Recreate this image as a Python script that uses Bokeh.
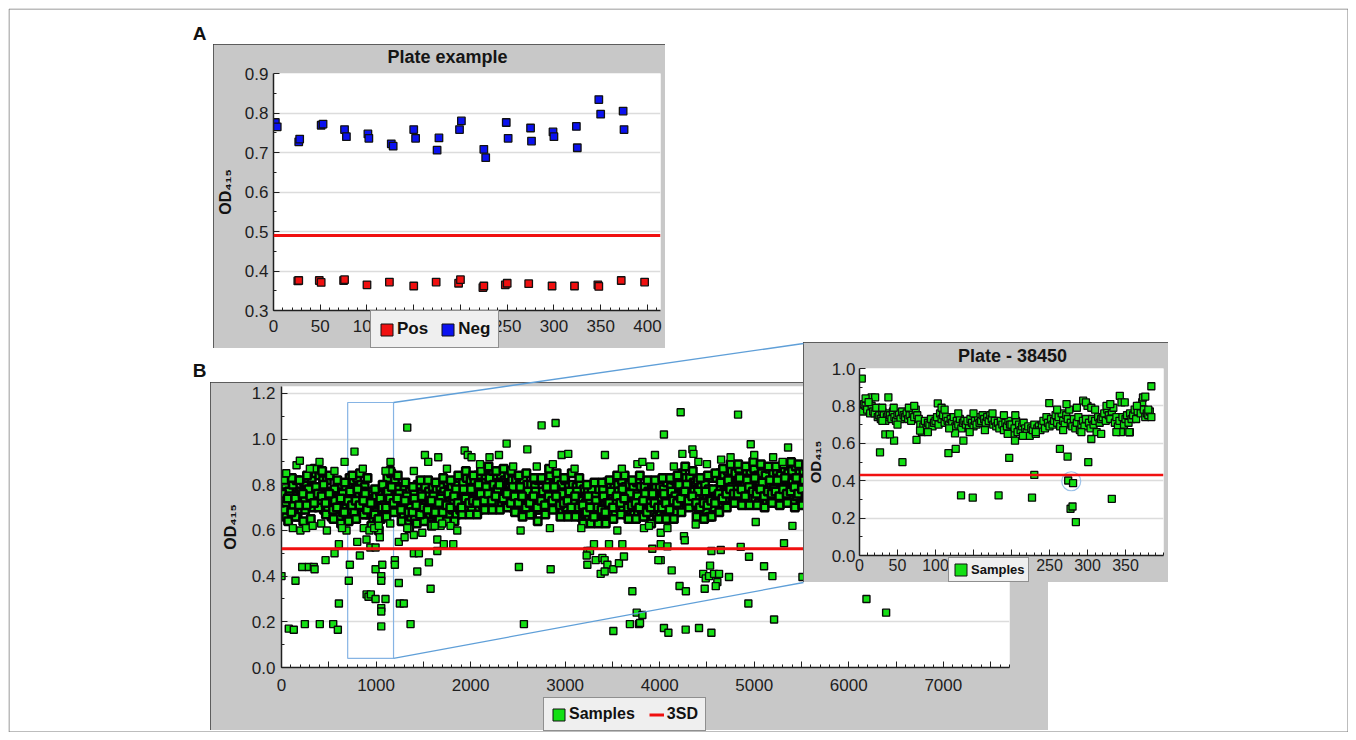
from bokeh.plotting import figure
from bokeh.models import (Range1d, FixedTicker, Span, Legend, LegendItem,
                          PrintfTickFormatter)
from bokeh.layouts import column
from bokeh.embed import file_html
from bokeh.resources import INLINE
from bokeh.core.properties import value

FONT = "Liberation Sans"
NAN = float("nan")

# ---------------- Panel A : plate example (controls) ----------------
a_title = "Plate example"
a_neg_x = [2, 4, 27, 28, 51, 53, 76, 78, 101, 102, 126, 128, 150, 152, 175, 177,
           199, 201, 225, 227, 249, 251, 275, 276, 299, 300, 324, 325, 348, 350, 374, 375]
a_neg_y = [.776, .765, .727, .734, .769, .772, .758, .740, .747, .736, .722, .716, .758, .736,
           .706, .737, .758, .780, .708, .687, .776, .736, .762, .729, .752, .740, .766, .712,
           .834, .797, .805, .758]
a_pos_x = [26, 27, 49, 51, 75, 76, 100, 124, 150, 174, 198, 200, 224, 225, 248, 250,
           273, 298, 322, 347, 348, 372, 397]
a_pos_y = [.375, .376, .376, .371, .376, .378, .365, .372, .362, .372, .369, .378, .358, .362,
           .365, .369, .368, .362, .362, .365, .361, .376, .372]
a_cutoff = 0.49
a_xticks = [0, 50, 100, 150, 200, 250, 300, 350, 400]
a_yticks = [0.3, 0.4, 0.5, 0.6, 0.7, 0.8, 0.9]

# ---------------- Panel B : all samples ----------------
b_step = 40  # sample-index spacing of the dense band rows
b_band_u = [.78, .80, .77, .80, .82, .77, .81, .83, .83, .85,
            .84, .82, .82, .77, .78, .75, .80, .79, .83, .82,
            .83, .80, .79, .75, .77, .75, .77, .79, .83, .85,
            .82, .79, .79, .76, .77, .77, .80, .76, .79, .77,
            .79, .78, .79, .77, .81, .79, .81, .83, .81, .83,
            .82, .82, .84, .81, .84, .83, .86, .84, .84, .82,
            .84, .82, .82, .80, .82, .80, .80, .79, .82, .82,
            .82, .84, .80, .82, .80, .82, .79, .80, .79, .80,
            .78, .77, .78, .75, .78, .78, .81, .79, .80, .80,
            .82, .79, .80, .79, .81, .79, .79, .77, .81, .79,
            .79, .78, .81, .79, .82, .82, .85, .83, .83, .81,
            .82, .79, .80, .78, .83, .83, .85, .84, .86, .86,
            .85, .87, .83, .86, .86, .87, .84, .85, .84, .87,
            .85, .86, .84, .87, .85, .86, .88, .85, .86, .84,
            .86, .84, .87, .85, .86, .84, .87, .85, .86, .88,
            .85, .84, .86, .87, .85, .86, .84, .87, .85, .86, .85]
b_band_m = [.73, .72, .74, .72, .76, .74, .76, .75, .79, .77,
            .79, .76, .75, .75, .71, .73, .71, .75, .75, .78,
            .75, .77, .73, .69, .71, .70, .70, .76, .76, .76,
            .78, .73, .72, .73, .69, .73, .72, .71, .75, .72,
            .71, .74, .75, .71, .74, .75, .74, .77, .76, .75,
            .77, .77, .75, .79, .78, .77, .79, .79, .80, .77,
            .77, .79, .75, .76, .76, .73, .74, .76, .74, .77,
            .78, .76, .78, .76, .73, .76, .75, .73, .75, .73,
            .72, .73, .70, .73, .72, .71, .75, .74, .73, .77,
            .74, .76, .74, .76, .72, .74, .74, .72, .76, .74,
            .74, .73, .72, .76, .78, .76, .78, .80, .76, .76,
            .74, .76, .74, .72, .77, .78, .81, .78, .79, .81,
            .80, .79, .81, .80, .79, .81, .80, .81, .78, .80,
            .81, .79, .80, .82, .79, .80, .82, .80, .81, .79,
            .80, .82, .79, .81, .80, .78, .81, .80, .82, .79,
            .81, .80, .79, .82, .80, .81, .79, .80, .81, .80, .80]
b_band_l = [.68, .66, .69, .68, .66, .69, .69, .72, .70, .73,
            .72, .69, .70, .66, .68, .66, .68, .67, .69, .68,
            .71, .68, .67, .67, .65, .63, .65, .69, .69, .71,
            .69, .69, .66, .64, .66, .66, .68, .65, .68, .66,
            .67, .66, .67, .69, .67, .69, .67, .69, .71, .69,
            .70, .72, .69, .71, .71, .73, .72, .75, .71, .72,
            .72, .70, .70, .68, .70, .69, .67, .69, .69, .72,
            .70, .72, .70, .72, .68, .70, .67, .68, .69, .66,
            .67, .66, .64, .66, .68, .67, .69, .67, .68, .70,
            .69, .67, .69, .67, .68, .69, .66, .69, .68, .66,
            .68, .66, .68, .70, .68, .71, .73, .71, .71, .71,
            .69, .67, .69, .66, .70, .73, .72, .73, .74, .73,
            .75, .73, .73, .75, .74, .74, .72, .74, .73, .73,
            .74, .76, .73, .75, .74, .72, .75, .76, .73, .74,
            .75, .73, .74, .76, .72, .74, .75, .73, .74, .76,
            .74, .75, .73, .74, .76, .73, .74, .75, .72, .74, .74]
b_band_w = [.82, .64, .83, .66, .82, .64, .84, .65, .87, .70,
            .86, .67, .84, .65, .82, .63, .81, .64, .84, .65,
            .85, .67, .83, .62, .78, .60, .80, .66, .86, .68,
            .84, .64, .81, .61, .79, .63, .82, .64, .82, .62,
            .81, .65, .83, .64, .82, .64, .84, .67, .86, .67,
            .84, .67, .86, .69, .88, .69, .86, .69, .87, .70,
            .86, .68, .84, .66, .85, .67, .83, .64, .83, .67,
            .87, .69, .85, .66, .83, .66, .85, .66, .83, .63,
            .80, .63, .81, .63, .81, .63, .82, .65, .84, .67,
            .84, .65, .82, .65, .84, .66, .82, .63, .82, .65,
            .83, .65, .83, .65, .84, .68, .88, .70, .86, .66,
            .83, .65, .84, .66, .85, .68, .87, .70, .89, .72,
            .89, .71, .88, .71, .90, .71, .89, .70, .88, .72,
            .88, .71, .89, .72, .90, .70, .89, .71, .88, .72,
            .89, .71, .88, .70, .89, .72, .90, .71, .88, .70,
            .89, .72, .88, .71, .89, .70, .88, .72, .89, .71, .88]
b_band_m2 = [.76, .71, .75, .71, .75, .77, .73, .78, .74, .79,
             .76, .80, .72, .75, .73, .70, .76, .73, .77, .73,
             .78, .72, .76, .70, .72, .68, .74, .71, .77, .79,
             .73, .76, .70, .75, .70, .74, .69, .75, .71, .73,
             .75, .71, .74, .70, .76, .73, .78, .73, .78, .73,
             .78, .74, .80, .75, .79, .75, .80, .78, .81, .76,
             .74, .79, .74, .79, .74, .77, .71, .77, .73, .77,
             .79, .74, .79, .74, .76, .72, .77, .73, .77, .71,
             .70, .75, .70, .73, .69, .75, .72, .77, .73, .77,
             .78, .73, .76, .71, .75, .72, .76, .72, .76, .71,
             .71, .76, .71, .77, .75, .80, .76, .80, .74, .77,
             .77, .71, .77, .73, .78, .75, .81, .77, .82, .79,
             .78, .83, .77, .82, .79, .83, .78, .81, .77, .82,
             .78, .82, .77, .83, .78, .81, .83, .79, .82, .77,
             .82, .78, .83, .77, .81, .79, .83, .78, .82, .77,
             .81, .78, .83, .79, .82, .77, .81, .83, .78, .82, .80]
b_band_l2 = [.69, .74, .68, .74, .71, .76, .71, .75, .72, .76,
             .75, .72, .76, .69, .70, .74, .68, .73, .71, .73,
             .71, .73, .69, .72, .67, .65, .70, .70, .74, .72,
             .74, .69, .73, .68, .68, .71, .67, .70, .69, .73,
             .68, .72, .68, .71, .70, .75, .72, .70, .74, .72,
             .73, .72, .76, .73, .76, .73, .75, .80, .74, .76,
             .72, .75, .72, .75, .70, .72, .75, .70, .73, .71,
             .75, .73, .75, .71, .72, .73, .70, .75, .70, .71,
             .68, .70, .66, .70, .69, .68, .72, .70, .75, .72,
             .74, .70, .71, .72, .70, .73, .68, .70, .72, .70,
             .70, .72, .69, .73, .72, .74, .77, .73, .75, .72,
             .70, .72, .71, .73, .72, .76, .74, .76, .78, .76,
             .76, .78, .75, .79, .77, .76, .78, .75, .77, .76,
             .77, .75, .78, .76, .77, .79, .76, .78, .75, .77,
             .76, .78, .75, .77, .79, .76, .78, .75, .77, .76,
             .78, .75, .77, .76, .78, .77, .75, .78, .76, .77, .77]
b_out_x = [0, 77, 130, 148, 219, 247, 289, 342, 350, 405, 466, 547, 561, 596, 607, 607, 688,
           712, 723, 801, 829, 899, 900, 920, 945, 940, 995, 995, 995, 1040, 1055, 1055, 1055,
           1055, 1055, 1066, 1100, 1199, 1199, 1241, 1252, 1294, 1365, 1241, 1302, 1400, 1400,
           1453, 1436, 1489, 1559, 1577, 1648, 1648, 1594, 1683, 1788, 1717, 1817, 1859, 2511,
           2564, 2529, 2847, 2839, 3171, 3552, 3834, 3887, 4011, 4082, 4257, 4265, 4381, 5016,
           5404, 3305, 3464, 3605, 3235, 3263, 3228, 3235, 3323, 3394, 3418, 3447, 3510, 3569,
           3622, 3376, 3418, 3922, 4011, 4011, 4082, 4127, 3986, 4210, 4277, 3711, 3757, 3817,
           3685, 3781, 3792, 3510, 4045, 4092, 4275, 4416, 4547, 4460, 4487, 4522, 4575, 4628,
           4610, 4476, 4533, 4593, 4547, 4646, 4733, 4857, 4945, 5104, 5192, 5315, 4938, 5210,
           5510, 6187, 6395,
           120, 200, 260, 330, 420, 480, 640, 870, 930, 980, 1030, 1150, 1330, 1620, 1700,
           159, 194, 402, 667, 772, 1153, 1330, 1517, 1552, 1658, 1937, 1970, 2010, 2200, 2300,
           2381, 2600, 2751, 2899, 2870, 2963, 3033, 3421, 3764, 3817, 3950, 4045, 4222, 4240,
           4346, 4357, 4409, 4829, 4963, 5358,
           50, 300, 560, 860, 1100, 1400, 1750, 2100, 2450, 2700, 3100, 3600, 3900, 4150, 4500,
           4650, 4750, 5000, 5200, 5300]
b_out_y = [.40, .17, .165, .38, .44, .19, .44, .44, .43, .19, .47, .19, .50, .165, .54, .28, .60,
           .38, .45, .55, .49, .56, .32, .31, .32, .525, .525, .43, .30, .57, .40, .38, .26,
           .245, .18, .45, .30, .47, .45, .37, .28, .28, .19, .55, .57, .58, .50,
           .50, .42, .59, .46, .345, .51, .56, .62, .62, .62, .54, .54, .60, .44,
           .19, .60, .43, .61, .61, .60, .61, .62, .59, .61, .575, .557, .626, .637,
           .62, .54, .54, .54, .51, .51, .49, .45, .47, .48, .47, .45, .43, .456,
           .486, .41, .42, .52, .54, .47, .53, .425, .47, .357, .334, .334, .24, .23,
           .19, .19, .195, .16, .173, .152, .166, .173, .152, .41, .39, .40, .41, .41,
           .374, .345, .446, .356, .51, .514, .396, .528, .485, .443, .40, .544, .28, .21,
           .396, .30, .24,
           .61, .60, .61, .62, .63, .60, .61, .61, .60, .61, .62, .63, .61, .62, .63,
           .885, .905, .90, .90, .945, .90, 1.05, .93, .90, .92, .95, .93, .92, .92, .93,
           .98, .955, 1.06, 1.07, .89, .93, .935, .93, .89, .90, .93, 1.02, 1.117, .935,
           .955, .935, .90, 1.107, .977, .963,
           .85, .87, .86, .87, .86, .86, .87, .89, .88, .88, .87, .87, .88, .88, .89,
           .91, .92, .93, .92, .90]
b_cutoff = 0.52
b_zoom_x = [700, 1185]
b_zoom_y = [0.04, 1.16]
b_xticks = [0, 500, 1000, 1500, 2000, 2500, 3000, 3500, 4000, 4500, 5000, 5500, 6000, 6500,
            7000, 7500]
b_xlabels = ["0", "", "1000", "", "2000", "", "3000", "", "4000", "", "5000", "", "6000", "",
             "7000", ""]
b_yticks = [0.0, 0.2, 0.4, 0.6, 0.8, 1.0, 1.2]

# ---------------- Inset : Plate - 38450 ----------------
i_title = "Plate - 38450"
i_step = 2
i_band_y = [.79, .80, .77, .81, .80, .78, .83, .76, .80, .77,
            .76, .79, .74, .75, .73, .77, .75, .72, .74, .76,
            .75, .73, .77, .74, .72, .75, .76, .73, .77, .75,
            .74, .76, .73, .75, .72, .76, .74, .78, .75, .73,
            .70, .66, .69, .72, .68, .71, .70, .73, .69, .71,
            .72, .74, .70, .76, .73, .75, .71, .74, .72, .70,
            .73, .71, .74, .69, .72, .70, .73, .68, .71, .72,
            .70, .72, .68, .73, .71, .69, .72, .70, .74, .71,
            .72, .75, .73, .71, .74, .72, .75, .73, .70, .72,
            .69, .71, .68, .72, .70, .67, .71, .69, .72, .70,
            .70, .65, .68, .72, .66, .70, .67, .69, .71, .68,
            .66, .69, .64, .68, .67, .70, .65, .68, .69, .67,
            .70, .72, .68, .74, .71, .69, .73, .70, .72, .75,
            .71, .74, .69, .76, .72, .70, .75, .73, .78, .71,
            .69, .73, .68, .71, .74, .67, .70, .72, .69, .73,
            .80, .71, .68, .73, .70, .72, .66, .74, .71, .73,
            .74, .76, .72, .78, .75, .73, .77, .79, .71, .74,
            .69, .72, .66, .74, .70, .73, .75, .71, .76, .73,
            .75, .78, .73, .77, .80, .76, .82, .78, .74, .76,
            .75, .77, .74]
i_out_x = [3, 27, 56.5, 75, 45.5, 34, 40, 117, 126.6, 136.7, 125.7, 133.6, 149, 183, 197,
           204.6, 227, 230, 263.7, 273.8, 274.6, 281, 277.7, 280.3, 284.7, 301, 305, 332,
           355.7, 79.7, 103, 249.7, 272.4, 294.3, 297.9, 342.5, 344.7, 349, 373, 16, 20.6,
           38, 384,
           8, 12, 30, 45, 65, 72, 108, 112, 130, 150, 175, 190, 205, 260, 286, 305, 310, 325,
           330, 365, 376, 380, 30, 50, 90, 118, 145, 165, 195, 215, 232, 268, 292, 318, 338, 355]
i_out_y = [.946, .552, .499, .618, .614, .648, .648, .547, .57, .614, .653, .321, .309, .321,
           .522, .614, .309, .431, .57, .529, .401, .387, .25, .262, .179, .499, .623, .303,
           .659, .668, .813, .815, .81, .828, .819, .854, .819, .819, .845, .846, .846,
           .846, .905,
           .84, .82, .79, .79, .79, .80, .79, .78, .76, .76, .76, .75, .75, .78, .79, .79, .78,
           .80, .81, .80, .85, .78, .72, .70, .66, .68, .66, .67, .65, .64, .66, .67, .66, .65,
           .66, .66]
i_cutoff = 0.43
i_circle_x = [278.6]
i_circle_y = [0.397]
i_xticks = [0, 50, 100, 150, 200, 250, 300, 350]
i_yticks = [0.0, 0.2, 0.4, 0.6, 0.8, 1.0]

GREEN = "#14e014"
RED = "#f01010"
BLUE = "#0b12f0"
FRAME = "#c8c8c8"

ROOT_X, ROOT_Y, ROOT_W, ROOT_H = 8, 8, 1340, 724

# frames: (left, top, width, height) in page pixels, and (left, right, top, bottom) borders
A_BOX = (213, 44, 452, 304)
A_BRD = (59, 5, 29, 38)
B_BOX = (210, 382, 838, 348)
B_BRD = (71, 39, 4, 63)
B_XR = (0, 7700)
B_YR = (0, 1.23)
I_BOX = (803, 342, 365, 240)
I_BRD = (56, 5, 26, 27)


def make_fig(box, brd, xr, yr):
    p = figure(width=box[2], height=box[3], x_range=Range1d(*xr), y_range=Range1d(*yr),
               output_backend="svg", toolbar_location=None,
               min_border_left=brd[0], min_border_right=brd[1],
               min_border_top=brd[2], min_border_bottom=brd[3])
    p.border_fill_color = FRAME
    p.background_fill_color = "white"
    p.outline_line_color = None
    p.xgrid.grid_line_color = None
    p.ygrid.grid_line_color = "#dcdcdc"
    p.ygrid.grid_line_width = 1.5
    for ax in (p.xaxis[0], p.yaxis[0]):
        ax.major_label_text_font = FONT
        ax.major_label_text_color = "#1e1e1e"
        ax.axis_line_color = "#202020"
        ax.axis_line_width = 1.5
        ax.major_tick_line_color = "#202020"
        ax.minor_tick_line_color = "#202020"
        ax.major_tick_in = 6
        ax.major_tick_out = 0
        ax.minor_tick_in = 3
        ax.minor_tick_out = 0
        ax.axis_label_text_font = FONT
        ax.axis_label_text_font_style = "bold"
        ax.axis_label_text_color = "#111111"
    p.yaxis.formatter = PrintfTickFormatter(format="%.1f")
    p.xaxis.formatter = PrintfTickFormatter(format="%d")
    return p


def style_legend(leg, fs, pad, spacing):
    leg.orientation = "horizontal"
    leg.background_fill_color = "#efefef"
    leg.background_fill_alpha = 1
    leg.border_line_color = "#303030"
    leg.border_line_width = 1.5
    leg.label_text_font = FONT
    leg.label_text_font_style = "bold"
    leg.label_text_font_size = fs
    leg.label_text_color = "#111111"
    leg.glyph_width = 15
    leg.glyph_height = 15
    leg.padding = pad
    leg.spacing = spacing
    leg.label_standoff = 3
    leg.margin = 0


# ---- Panel A figure
pA = make_fig(A_BOX, A_BRD, (0, 414), (0.3, 0.9))
pA.xaxis.ticker = FixedTicker(ticks=a_xticks, minor_ticks=list(range(0, 415, 10)))
pA.yaxis.ticker = FixedTicker(ticks=a_yticks, minor_ticks=[0.35, 0.45, 0.55, 0.65, 0.75, 0.85])
pA.xaxis.major_label_text_font_size = "17px"
pA.yaxis.major_label_text_font_size = "17px"
pA.xaxis.major_label_standoff = 9
pA.yaxis.major_label_standoff = 5
pA.yaxis.axis_label = "OD₄₁₅"
pA.yaxis.axis_label_text_font_size = "16px"
pA.yaxis.axis_label_standoff = 8
pA.add_layout(Span(location=a_cutoff, dimension="width", line_color=RED, line_width=3))
pA.scatter(a_neg_x, a_neg_y, marker="square", size=7.5, fill_color=BLUE,
           line_color="#111111", line_width=1.3)
pA.scatter(a_pos_x, a_pos_y, marker="square", size=7.5, fill_color=RED,
           line_color="#111111", line_width=1.3)

# ---- Panel B figure
pB = make_fig(B_BOX, B_BRD, B_XR, B_YR)
pB.xaxis.ticker = FixedTicker(ticks=b_xticks, minor_ticks=list(range(0, 7701, 100)))
pB.xaxis.major_label_overrides = {t: lab for t, lab in zip(b_xticks, b_xlabels)}
pB.yaxis.ticker = FixedTicker(ticks=b_yticks, minor_ticks=[0.1, 0.3, 0.5, 0.7, 0.9, 1.1])
pB.xaxis.major_label_text_font_size = "17px"
pB.yaxis.major_label_text_font_size = "17px"
pB.xaxis.major_label_standoff = 11
pB.yaxis.major_label_standoff = 6
pB.yaxis.axis_label = "OD₄₁₅"
pB.yaxis.axis_label_text_font_size = "16px"
pB.yaxis.axis_label_standoff = 10
pB.quad(left=[b_zoom_x[0]], right=[b_zoom_x[1]], bottom=[b_zoom_y[0]], top=[b_zoom_y[1]],
        fill_color=None, line_color="#86b4e4", line_width=1.2)
band_x, band_y = [], []
for k, layer in zip([0, 20, 10, 30, 5, 25],
                    [b_band_u, b_band_m, b_band_l, b_band_w, b_band_m2, b_band_l2]):
    band_x += [i * b_step + k for i in range(len(layer))]
    band_y += layer
pB.scatter(band_x, band_y, marker="square", size=7.5, fill_color=GREEN,
           line_color="#030303", line_width=2.5)
pB.scatter(b_out_x, b_out_y, marker="square", size=7, fill_color=GREEN,
           line_color="#080808", line_width=1.4)
pB.add_layout(Span(location=b_cutoff, dimension="width", line_color=RED, line_width=3))

# ---- Inset figure
pI = make_fig(I_BOX, I_BRD, (0, 400), (0, 1.0))
pI.xaxis.ticker = FixedTicker(ticks=i_xticks, minor_ticks=list(range(0, 401, 10)))
pI.yaxis.ticker = FixedTicker(ticks=i_yticks, minor_ticks=[0.1, 0.3, 0.5, 0.7, 0.9])
pI.xaxis.major_label_text_font_size = "16px"
pI.yaxis.major_label_text_font_size = "17px"
pI.xaxis.major_label_standoff = 3
pI.yaxis.major_label_standoff = 4
pI.yaxis.axis_label = "OD₄₁₅"
pI.yaxis.axis_label_text_font_size = "15px"
pI.yaxis.axis_label_standoff = 5
pI.add_layout(Span(location=i_cutoff, dimension="width", line_color=RED, line_width=2.5))
inset_x = [i * i_step for i in range(len(i_band_y))]
pI.scatter(inset_x, i_band_y, marker="square", size=7, fill_color=GREEN,
           line_color="#0a0a0a", line_width=1.3)
pI.scatter(i_out_x, i_out_y, marker="square", size=7, fill_color=GREEN,
           line_color="#0a0a0a", line_width=1.3)
pI.scatter(i_circle_x, i_circle_y, marker="circle", size=19, fill_color=None,
           line_color="#9cc2e8", line_width=1.2)

# ---- Overlay (titles, connector lines, legends, panel letters, outer border), page pixels
ov = figure(width=ROOT_W, height=ROOT_H,
            x_range=Range1d(ROOT_X, ROOT_X + ROOT_W), y_range=Range1d(ROOT_Y + ROOT_H, ROOT_Y),
            output_backend="svg", toolbar_location=None, min_border=0,
            x_axis_type=None, y_axis_type=None)
ov.outline_line_color = None
ov.background_fill_alpha = 0
ov.border_fill_alpha = 0

b_fl = B_BOX[0] + B_BRD[0]
b_fw = B_BOX[2] - B_BRD[0] - B_BRD[1]
b_fb = B_BOX[1] + B_BOX[3] - B_BRD[3]
b_fh = B_BOX[3] - B_BRD[2] - B_BRD[3]


def bpx(x):
    return b_fl + (x - B_XR[0]) / (B_XR[1] - B_XR[0]) * b_fw


def bpy(y):
    return b_fb - (y - B_YR[0]) / (B_YR[1] - B_YR[0]) * b_fh


ov.segment(x0=[bpx(b_zoom_x[1]), bpx(b_zoom_x[1])], y0=[bpy(b_zoom_y[1]), bpy(b_zoom_y[0])],
           x1=[I_BOX[0], I_BOX[0]], y1=[I_BOX[1] + 1, I_BOX[1] + I_BOX[3]],
           line_color="#5f9fd8", line_width=1.3)
ov.quad(left=[ROOT_X + 0.5], right=[ROOT_X + ROOT_W - 0.5], top=[ROOT_Y + 0.5],
        bottom=[ROOT_Y + ROOT_H - 0.5], fill_color=None, line_color="#7a7a7a", line_width=1)
ov.text(x=[A_BOX[0] - 14, B_BOX[0] - 11], y=[A_BOX[1] - 11, B_BOX[1] - 12], text=["A", "B"],
        text_font=value(FONT), text_font_style="bold", text_font_size="19px",
        text_align="center", text_baseline="middle", text_color="#111111")
ov.text(x=[447, 1012], y=[A_BOX[1] + 12, I_BOX[1] + 13], text=[a_title, i_title],
        text_font=value(FONT), text_font_style="bold", text_font_size="18px",
        text_align="center", text_baseline="middle", text_color="#151515")

lg_pos = ov.quad(left=[NAN], right=[NAN], top=[NAN], bottom=[NAN], fill_color=RED,
                 line_color="#111111")
lg_neg = ov.quad(left=[NAN], right=[NAN], top=[NAN], bottom=[NAN], fill_color=BLUE,
                 line_color="#111111")
lg_smp = ov.quad(left=[NAN], right=[NAN], top=[NAN], bottom=[NAN], fill_color=GREEN,
                 line_color="#111111")
lg_sd = ov.line(x=[NAN, NAN], y=[NAN, NAN], line_color=RED, line_width=3)

y_base = ROOT_Y + ROOT_H
legA = Legend(items=[LegendItem(label="Pos", renderers=[lg_pos]),
                     LegendItem(label="Neg", renderers=[lg_neg])],
              location=(370 - ROOT_X, y_base - 348))
style_legend(legA, "17px", 8, 12)
ov.add_layout(legA)
legB = Legend(items=[LegendItem(label="Samples", renderers=[lg_smp]),
                     LegendItem(label="3SD", renderers=[lg_sd])],
              location=(543 - ROOT_X, y_base - 731))
style_legend(legB, "16px", 7, 14)
ov.add_layout(legB)
legI = Legend(items=[LegendItem(label="Samples", renderers=[lg_smp])],
              location=(948 - ROOT_X, y_base - 582))
style_legend(legI, "13px", 4, 4)
ov.add_layout(legI)


def place(fig, box, frame=True):
    st = {"position": "absolute", "left": f"{box[0]}px", "top": f"{box[1]}px"}
    if frame:
        st.update({"outline": "1px solid #3a3a3a", "outline-offset": "-1px"})
    return column(fig, width=box[2], height=box[3], styles=st)


root = column(place(pA, A_BOX), place(pB, B_BOX), place(pI, I_BOX),
              place(ov, (ROOT_X, ROOT_Y, ROOT_W, ROOT_H), frame=False),
              width=ROOT_W, height=ROOT_H, styles={"position": "relative"})

open("out.html", "w").write(file_html(root, INLINE))
